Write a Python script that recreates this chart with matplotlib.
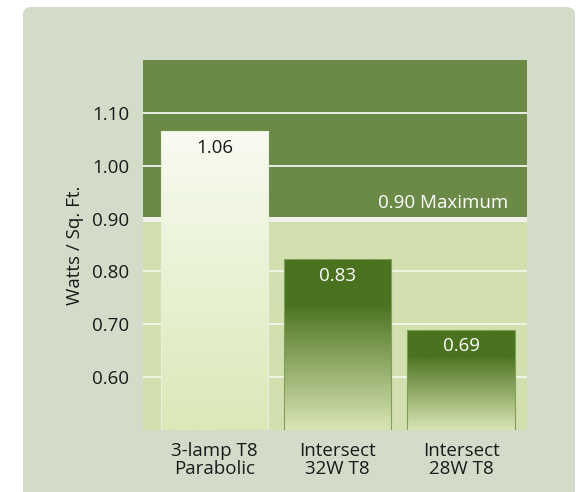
import numpy as np
import matplotlib
matplotlib.use("Agg")
import matplotlib.pyplot as plt
from matplotlib.patches import FancyBboxPatch
from matplotlib.colors import LinearSegmentedColormap

plt.rcParams['font.family'] = ['Open Sans', 'DejaVu Sans']

# data
categories = ["3-lamp T8\nParabolic", "Intersect\n32W T8", "Intersect\n28W T8"]
values = [1.065, 0.823, 0.69]
value_labels = ["1.06", "0.83", "0.69"]
yticks = [0.60, 0.70, 0.80, 0.90, 1.00, 1.10]
maximum = 0.90

fig = plt.figure(figsize=(5.86, 4.92), dpi=100, facecolor="white")

# rounded sage panel behind everything
panel = FancyBboxPatch((23 / 586, -0.05), (575 - 23) / 586, 1.05 - 7 / 492,
                       boxstyle="round,pad=0,rounding_size=0.015",
                       transform=fig.transFigure, facecolor="#d3dcc8",
                       edgecolor="none", zorder=-5)
fig.patches.append(panel)

ax = fig.add_axes([143 / 586, 1 - 430 / 492, 384 / 586, 370 / 492])
ax.set_zorder(1)
ax.set_facecolor("none")

# background bands
ax.axhspan(maximum, 1.2, color="#6b8a47", zorder=0)
ax.axhspan(0.5, maximum, color="#d2e0b0", zorder=0)
for t in [1.0, 1.1]:
    ax.axhline(t, color="white", lw=1.2, zorder=1)
for t in [0.6, 0.7, 0.8]:
    ax.axhline(t, color="#eef3e2", lw=1.5, zorder=1)
ax.axhline(maximum, color="#eff2ea", lw=3.6, zorder=1)

# bars with gradient fills (start at axis bottom)
bars = ax.bar(range(len(values)), [v - 0.5 for v in values], width=0.87,
              bottom=0.5, color="none", zorder=3)

light_cmap = LinearSegmentedColormap.from_list("light", ["#dbe8b8", "#f8fbf1"])
dark_cmap = LinearSegmentedColormap.from_list(
    "dark", [(0, "#d9e6b5"), (0.74, "#4b721f"), (1, "#4b721f")])

for i, b in enumerate(bars):
    x0, w = b.get_x(), b.get_width()
    y0, h = b.get_y(), b.get_height()
    grad = np.linspace(0, 1, 256).reshape(-1, 1)
    cmap = light_cmap if i == 0 else dark_cmap
    im = ax.imshow(grad, extent=[x0, x0 + w, y0, y0 + h], origin="lower",
                   aspect="auto", cmap=cmap, zorder=2)
    im.set_clip_path(b)
    edge = "#eaf1d8" if i == 0 else "#7f9f5a"
    b.set_edgecolor(edge)
    b.set_linewidth(0.8)
    tc = "#1a1a1a" if i == 0 else "white"
    ax.text(x0 + w / 2, values[i] - 0.014, value_labels[i],
            ha="center", va="top", fontsize=13.5, color=tc, zorder=4)

ax.text(2.385, 0.93, "0.90 Maximum", ha="right", va="center",
        fontsize=13.5, color="white", zorder=4)
ax.set_xlim(-0.58, 2.535)
ax.set_ylim(0.5, 1.2)

ax.set_yticks(yticks)
ax.set_yticklabels([f"{t:.2f}" for t in yticks], fontsize=13.5, color="#1a1a1a")
ax.set_xticks(range(len(categories)))
ax.set_xticklabels(categories, fontsize=13.5, color="#1a1a1a", linespacing=1.0)
ax.tick_params(length=0, pad=9)
ax.tick_params(axis="y", pad=10)
ax.set_ylabel("Watts / Sq. Ft.", fontsize=13.5, color="#1a1a1a", labelpad=6)
for s in ax.spines.values():
    s.set_visible(False)

fig.savefig("out.png", dpi=100, facecolor="white")
